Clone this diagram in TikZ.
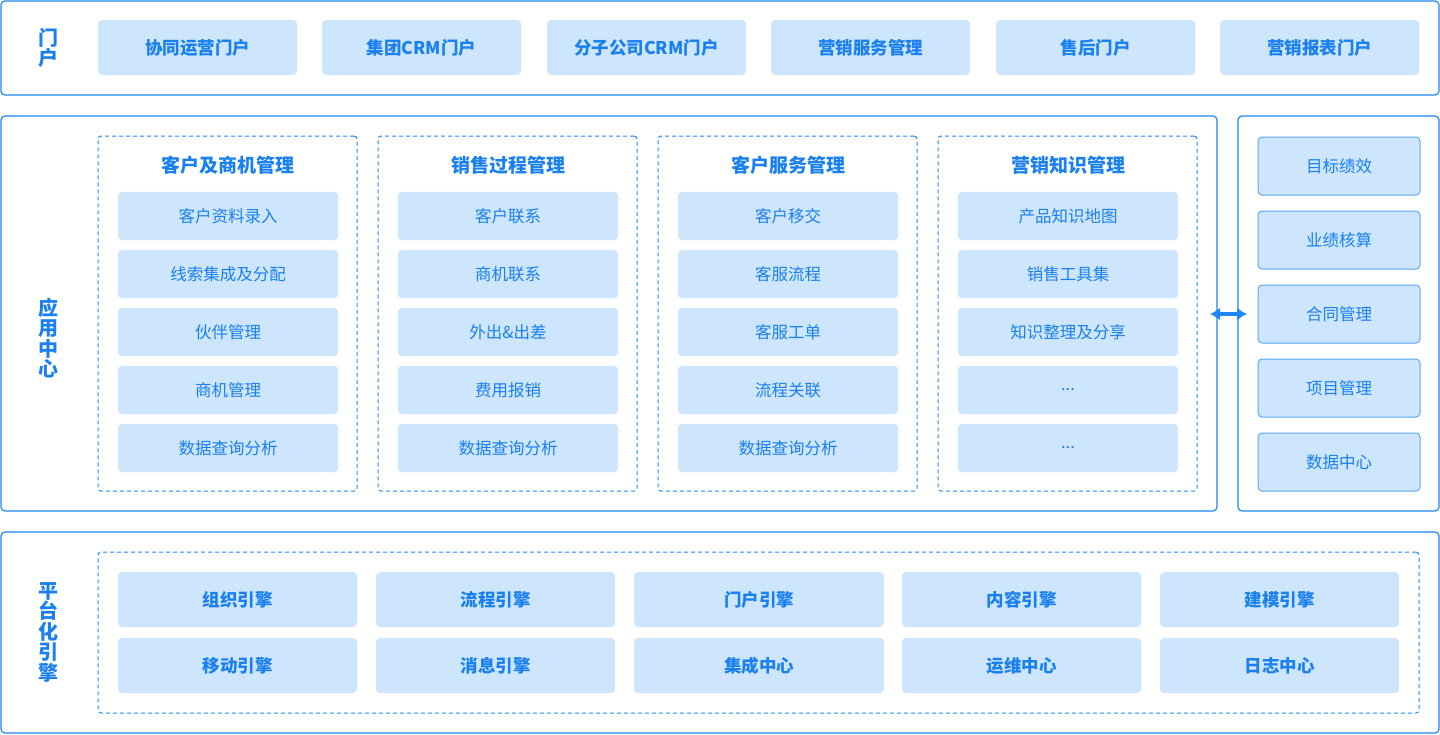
\documentclass[tikz,border=0pt]{standalone}
\usepackage{fontspec}
\setmainfont{Noto Sans CJK SC}
\usetikzlibrary{arrows.meta}
\definecolor{bd}{HTML}{1E86F7}
\definecolor{fl}{HTML}{CDE5FD}
\definecolor{tx}{HTML}{1A80F0}
\definecolor{bdl}{HTML}{5AA8F8}
\tikzset{
  panel/.style={draw=bd, line width=1.2pt, rounded corners=4pt, inner sep=0pt, outer sep=0pt},
  grp/.style={draw=bd, line width=1pt, dashed, dash pattern=on 4pt off 3pt, rounded corners=3pt, inner sep=0pt},
  lift/.style={text depth=0pt, text height=0pt},
  pbox/.style={fill=fl, rounded corners=4pt, inner sep=0pt, text=tx, font=\fontsize{17.5}{19}\selectfont\bfseries, minimum width=199pt, minimum height=55pt},
  ibox/.style={fill=fl, draw=fl!80!white, rounded corners=4pt, inner sep=0pt, text=tx, font=\fontsize{16.5}{18}\selectfont, minimum width=220pt, minimum height=48pt},
  rbox/.style={fill=fl, draw=bdl, line width=1pt, rounded corners=4pt, inner sep=0pt, text=tx, font=\fontsize{16.5}{18}\selectfont, minimum width=162pt, minimum height=58pt},
  ebox/.style={fill=fl, rounded corners=4pt, inner sep=0pt, text=tx, font=\fontsize{17.5}{19}\selectfont\bfseries, minimum width=239pt, minimum height=55pt},
  gtitle/.style={text=tx, font=\fontsize{19}{21}\selectfont\bfseries, inner sep=0pt},
  vlabel/.style={text=tx, font=\fontsize{20}{20.5}\selectfont\bfseries, align=center, inner sep=0pt},
}
\begin{document}
\begin{tikzpicture}[x=1pt,y=-1pt]
\useasboundingbox (0,0) rectangle (1440,734);
% panels
\node[panel, minimum width=1438pt, minimum height=94pt] (top) at (720,48) {};
\node[panel, minimum width=1216pt, minimum height=395pt] (mid) at (609,313.5) {};
\node[panel, minimum width=201pt, minimum height=395pt] (right) at (1338.5,313.5) {};
\node[panel, minimum width=1438pt, minimum height=201pt] (bot) at (720,632.5) {};
% vertical labels
\node[vlabel] (lt) at (48,48) {门\\户};
\node[vlabel] (lm) at (48,338) {应\\用\\中\\心};
\node[vlabel] (lb) at (48,632) {平\\台\\化\\引\\擎};
% portal boxes
\node[pbox] (p1) at (197.5,47.5) {协同运营门户};
\node[pbox] (p2) at (421.5,47.5) {集团CRM门户};
\node[pbox] (p3) at (646.5,47.5) {分子公司CRM门户};
\node[pbox] (p4) at (870.5,47.5) {营销服务管理};
\node[pbox] (p5) at (1095.5,47.5) {售后门户};
\node[pbox] (p6) at (1319.5,47.5) {营销报表门户};
% groups
\node[grp, minimum width=259pt, minimum height=355pt] (g1) at (227.5,313.5) {};
\node[grp, minimum width=259pt, minimum height=355pt] (g2) at (507.5,313.5) {};
\node[grp, minimum width=259pt, minimum height=355pt] (g3) at (787.5,313.5) {};
\node[grp, minimum width=259pt, minimum height=355pt] (g4) at (1067.5,313.5) {};
\node[gtitle] (t1) at (228,165) {客户及商机管理};
\node[gtitle] (t2) at (508,165) {销售过程管理};
\node[gtitle] (t3) at (788,165) {客户服务管理};
\node[gtitle] (t4) at (1068,165) {营销知识管理};
% group 1
\node[ibox] (a1) at (228,216) {客户资料录入};
\node[ibox] (a2) at (228,274) {线索集成及分配};
\node[ibox] (a3) at (228,332) {伙伴管理};
\node[ibox] (a4) at (228,390) {商机管理};
\node[ibox] (a5) at (228,448) {数据查询分析};
% group 2
\node[ibox] (b1) at (508,216) {客户联系};
\node[ibox] (b2) at (508,274) {商机联系};
\node[ibox] (b3) at (508,332) {外出\&出差};
\node[ibox] (b4) at (508,390) {费用报销};
\node[ibox] (b5) at (508,448) {数据查询分析};
% group 3
\node[ibox] (c1) at (788,216) {客户移交};
\node[ibox] (c2) at (788,274) {客服流程};
\node[ibox] (c3) at (788,332) {客服工单};
\node[ibox] (c4) at (788,390) {流程关联};
\node[ibox] (c5) at (788,448) {数据查询分析};
% group 4
\node[ibox] (d1) at (1068,216) {产品知识地图};
\node[ibox] (d2) at (1068,274) {销售工具集};
\node[ibox] (d3) at (1068,332) {知识整理及分享};
\node[ibox] (d4) at (1068,390) {...};
\node[ibox] (d5) at (1068,448) {...};
% right column
\node[rbox] (r1) at (1339,166) {目标绩效};
\node[rbox] (r2) at (1339,240) {业绩核算};
\node[rbox] (r3) at (1339,314) {合同管理};
\node[rbox] (r4) at (1339,388) {项目管理};
\node[rbox] (r5) at (1339,462) {数据中心};
% double arrow
\coordinate (al) at (1217,314);
\coordinate (ar) at (1238,314);
\draw[bd, line width=3.5pt, {Latex[length=10pt,width=13pt]}-{Latex[length=10pt,width=13pt]}, shorten <=-7pt, shorten >=-9pt] (al) -- (ar);
% platform engines
\node[grp, minimum width=1321pt, minimum height=161pt] (eg) at (758.5,632.5) {};
\node[ebox] (e1) at (237.5,599.5) {组织引擎};
\node[ebox] (e2) at (495.5,599.5) {流程引擎};
\node[ebox, minimum width=250pt] (e3) at (759,599.5) {门户引擎};
\node[ebox] (e4) at (1021.5,599.5) {内容引擎};
\node[ebox] (e5) at (1279.5,599.5) {建模引擎};
\node[ebox] (f1) at (237.5,665.5) {移动引擎};
\node[ebox] (f2) at (495.5,665.5) {消息引擎};
\node[ebox, minimum width=250pt] (f3) at (759,665.5) {集成中心};
\node[ebox] (f4) at (1021.5,665.5) {运维中心};
\node[ebox] (f5) at (1279.5,665.5) {日志中心};
\end{tikzpicture}
\end{document}
